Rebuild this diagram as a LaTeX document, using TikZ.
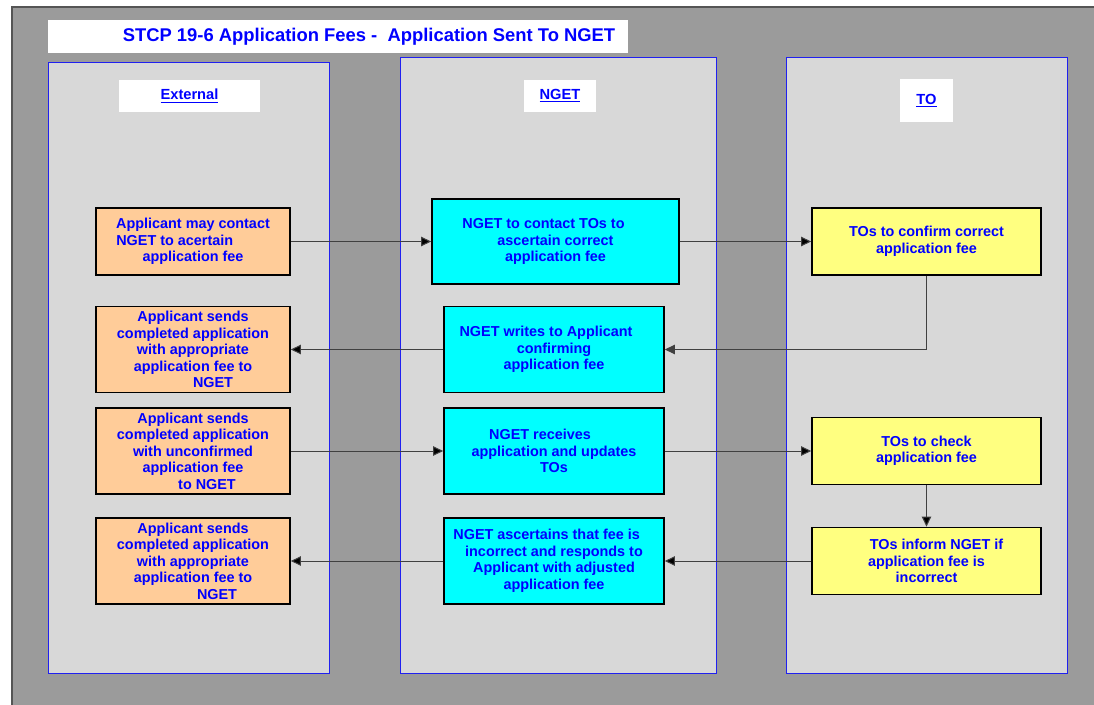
\documentclass[tikz,border=0pt]{standalone}
\usepackage{fontspec}
\setmainfont{Liberation Sans}
\usetikzlibrary{positioning, arrows.meta}

\definecolor{bggray}{HTML}{9B9B9B}
\definecolor{edgegray}{HTML}{555555}
\definecolor{lanefill}{HTML}{D8D8D8}
\definecolor{laneblue}{HTML}{2020F0}
\definecolor{txtblue}{HTML}{0000FF}
\definecolor{extfill}{HTML}{FFCC99}
\definecolor{ngetfill}{HTML}{00FFFF}
\definecolor{tofill}{HTML}{FFFF80}
\definecolor{linegray}{HTML}{404040}

\begin{document}
\begin{tikzpicture}[x=0.75pt,y=-0.75pt,>={Triangle[length=7.5pt,width=7pt]}]
\tikzstyle{lane}=[-,fill=lanefill,draw=laneblue,line width=0.75pt]
\tikzstyle{lanehead}=[fill=white,text=txtblue,inner sep=0pt,font=\bfseries\fontsize{11}{13}\selectfont]
\tikzstyle{task}=[draw=black,line width=1.2pt,text=txtblue,align=center,inner sep=0pt,font=\bfseries\fontsize{10.8}{12.4}\selectfont]
\tikzstyle{extbox}=[task,fill=extfill,minimum width=145.5pt,minimum height=64.5pt]
\tikzstyle{ngetbox}=[task,fill=ngetfill,minimum width=165pt,minimum height=64.5pt]
\tikzstyle{tobox}=[task,fill=tofill,minimum width=171.75pt,minimum height=50.25pt]
\tikzstyle{flow}=[->,draw=linegray,line width=0.75pt]
\useasboundingbox (0,0) rectangle (1094,705);

% page and title
\fill[bggray] (12,8) rectangle (1094,705);
\draw[edgegray,line width=1.5pt] (12,705) -- (12,7) -- (1094,7);
\fill[white] (48,20) rectangle (628,53);
\node[text=txtblue,font=\bfseries\fontsize{13.8}{16}\selectfont] (title) at (369,37)
  {STCP 19-6 Application Fees -\ \ Application Sent To NGET};

% swim lanes
\draw[lane] (48,63) rectangle (329,673);
\draw[lane] (400,58) rectangle (716,673);
\draw[lane] (786,58) rectangle (1067,673);
\node[lanehead,minimum width=105.75pt,minimum height=24pt] (hExt) at (189.5,96) {\underline{External}};
\node[lanehead,minimum width=54pt,minimum height=24pt] (hNGET) at (560,96) {\underline{NGET}};
\node[lanehead,minimum width=39.75pt,minimum height=32.25pt] (hTO) at (926.5,100.5) {\underline{TO}};

% External
\node[extbox,minimum height=50.25pt] (E1) at (193,241.5)
  {Applicant may contact\\ \makebox[115pt][l]{NGET to acertain}\\ application fee};
\node[extbox] (E2) at (193,349.5)
  {Applicant sends\\ completed application\\ with appropriate\\ application fee to\\ \hspace*{30pt}NGET};
\node[extbox] (E3) at (193,451)
  {Applicant sends\\ completed application\\ with unconfirmed\\ application fee\\ \hspace*{21pt}to NGET};
\node[extbox] (E4) at (193,561)
  {Applicant sends\\ completed application\\ with appropriate\\ application fee to\\ \hspace*{36pt}NGET};

% NGET
\node[ngetbox,minimum width=185.25pt,minimum height=63.75pt] (N1) at (555.5,241.5)
  {NGET to contact TOs to\hspace*{18pt}\\ ascertain correct\\ application fee};
\node[ngetbox] (N2) at (554,349.5)
  {NGET writes to Applicant\hspace*{12pt}\\ confirming\\ application fee};
\node[ngetbox] (N3) at (554,451)
  {NGET receives\hspace*{21pt}\\ application and updates\\ TOs};
\node[ngetbox] (N4) at (554,561)
  {NGET ascertains that fee is\hspace*{11pt}\\ incorrect and responds to\\ Applicant with adjusted\\ application fee};

% TO
\node[tobox] (T1) at (926.5,241.5) {TOs to confirm correct\\ application fee};
\node[tobox] (T3) at (926.5,451) {TOs to check\\ application fee};
\node[tobox] (T4) at (926.5,561) {\hspace*{15pt}TOs inform NGET if\\ application fee is\\ incorrect};

\path[flow]
(E1) edge (N1)
(N1) edge (T1)
(N2) edge (E2)
(E3) edge (N3)
(N3) edge (T3)
(T3) edge (T4)
(T4) edge (N4)
(N4) edge (E4);
\draw[flow] (T1) |- (N2);
\end{tikzpicture}
\end{document}
